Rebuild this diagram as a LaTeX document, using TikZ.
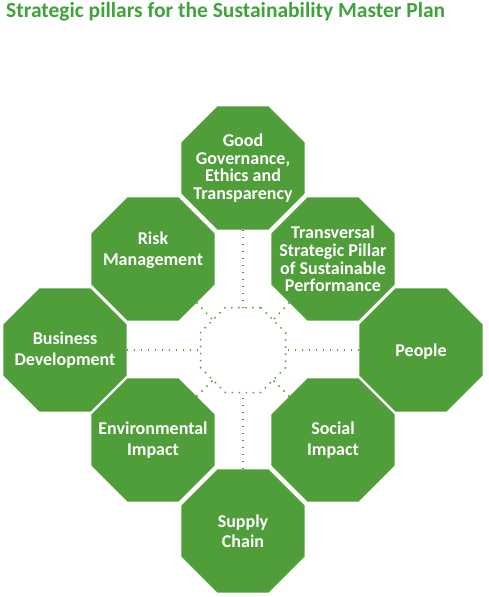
\documentclass[tikz,border=0pt]{standalone}
\usepackage{fontspec}
\setmainfont{Carlito}
\usetikzlibrary{shapes.geometric}
\definecolor{pillar}{RGB}{80,158,58}
\definecolor{titlegreen}{RGB}{64,162,58}
\tikzset{
  octo/.style={regular polygon, regular polygon sides=8, minimum size=133.2pt,
    inner sep=0pt, outer sep=0pt, fill=pillar, draw=none},
  hub/.style={regular polygon, regular polygon sides=8, minimum size=92pt,
    inner sep=0pt, outer sep=0pt, draw=pillar, line width=1.5pt,
    dash pattern=on 1.5pt off 5.5pt},
  pilltext/.style={text=white, font=\bfseries\fontsize{18}{20.5}\selectfont,
    align=center, inner sep=0pt},
  pilltextfour/.style={pilltext, font=\bfseries\fontsize{18}{17.8}\selectfont},
  dotline/.style={draw=pillar, line width=1.5pt, dash pattern=on 1.5pt off 5.5pt},
}
\begin{document}
\begin{tikzpicture}[x=1pt,y=-1pt]
\useasboundingbox (0,0) rectangle (488,597);
\node[anchor=base west, inner sep=0pt, text=titlegreen,
  font=\bfseries\fontsize{21.5}{24}\selectfont] (title) at (6,17)
  {Strategic pillars for the Sustainability Master Plan};

\node[octo] (gg) at (243,168) {};
\node[octo] (risk) at (153,259) {};
\node[octo] (tr) at (333,259) {};
\node[octo] (bus) at (65,350) {};
\node[octo] (ppl) at (421,350) {};
\node[octo] (env) at (153,440) {};
\node[octo] (soc) at (333,440) {};
\node[octo] (sup) at (243,531) {};
\node[hub] (c) at (243,350) {};

\node[pilltextfour] (ggt) at (gg.center) {Good\\Governance,\\Ethics and\\Transparency};
\node[pilltext] (riskt) at ([yshift=9pt]risk.center) {Risk\\Management};
\node[pilltextfour] (trt) at (tr.center) {Transversal\\Strategic Pillar\\of Sustainable\\Performance};
\node[pilltext] (bust) at (bus.center) {Business\\Development};
\node[pilltext] (pplt) at ([yshift=-2pt]ppl.center) {People};
\node[pilltext] (envt) at (env.center) {Environmental\\Impact};
\node[pilltext] (soct) at (soc.center) {Social\\Impact};
\node[pilltext] (supt) at (sup.center) {Supply\\Chain};

\draw[dotline] (gg.south) -- (c.north);
\draw[dotline] (sup.north) -- (c.south);
\draw[dotline] (bus.east) -- (c.west);
\draw[dotline] (ppl.west) -- (c.east);
\draw[dotline] (risk.-45) -- (c.135);
\draw[dotline] (tr.-135) -- (c.45);
\draw[dotline] (env.45) -- (c.-135);
\draw[dotline] (soc.135) -- (c.-45);
\end{tikzpicture}
\end{document}
